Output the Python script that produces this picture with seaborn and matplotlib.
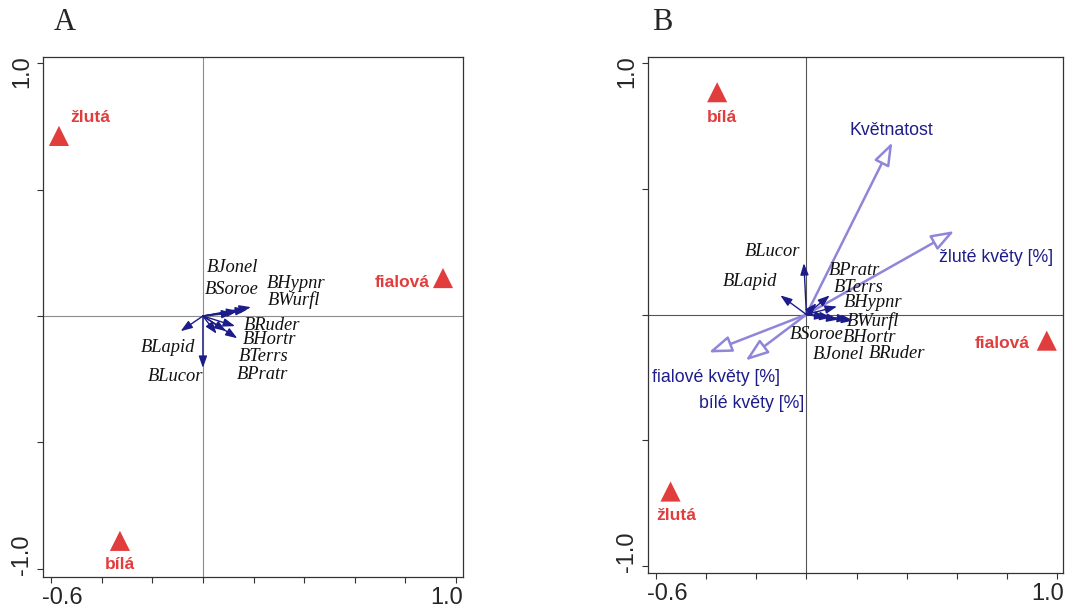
import matplotlib
matplotlib.use('Agg')
import numpy as np
import pandas as pd
import seaborn as sns
import matplotlib.pyplot as plt
import matplotlib.transforms as mtransforms

# --- panel A: species arrows (tips) and label centres
spec_a = ['BJonel', 'BSoroe', 'BHypnr', 'BWurfl', 'BRuder', 'BHortr', 'BTerrs', 'BPratr', 'BLapid', 'BLucor']
spec_a_x = [0.14, 0.12, 0.19, 0.175, 0.127, 0.136, 0.054, 0.092, -0.088, 0.0]
spec_a_y = [0.02, 0.012, 0.035, 0.026, -0.04, -0.088, -0.07, -0.06, -0.06, -0.205]
lab_a_x = [0.117, 0.115, 0.368, 0.36, 0.275, 0.265, 0.241, 0.235, -0.136, -0.109]
lab_a_y = [0.19, 0.103, 0.13, 0.063, -0.036, -0.091, -0.161, -0.233, -0.125, -0.24]

# panel A: sample (flower colour) centroids
cls_a = ['žlutá', 'bílá', 'fialová']
cls_a_x = [-0.569, -0.328, 0.949]
cls_a_y = [0.712, -0.889, 0.150]
cls_a_lx = [-0.447, -0.326, 0.787]
cls_a_ly = [0.783, -0.984, 0.134]

# --- panel B: species arrows and label centres
spec_b = ['BLucor', 'BLapid', 'BPratr', 'BTerrs', 'BHypnr', 'BWurfl', 'BSoroe', 'BHortr', 'BJonel', 'BRuder']
spec_b_x = [-0.01, -0.104, 0.04, 0.093, 0.122, 0.187, 0.08, 0.128, 0.1, 0.17]
spec_b_y = [0.204, 0.076, 0.045, 0.076, 0.032, -0.024, -0.01, -0.02, -0.012, -0.02]
lab_b_x = [-0.135, -0.223, 0.191, 0.207, 0.265, 0.265, 0.04, 0.251, 0.129, 0.36]
lab_b_y = [0.251, 0.133, 0.173, 0.109, 0.049, -0.027, -0.08, -0.09, -0.159, -0.157]

# panel B: environmental variables
env_b = ['Květnatost', 'žluté květy [%]', 'fialové květy [%]', 'bílé květy [%]']
env_b_x = [0.343, 0.59, -0.39, -0.243]
env_b_y = [0.685, 0.332, -0.151, -0.183]
env_lab_x = [0.339, 0.755, -0.359, -0.217]
env_lab_y = [0.733, 0.228, -0.251, -0.355]

# panel B: centroids
cls_b = ['bílá', 'fialová', 'žlutá']
cls_b_x = [-0.356, 0.959, -0.542]
cls_b_y = [0.884, -0.104, -0.704]
cls_b_lx = [-0.335, 0.783, -0.52]
cls_b_ly = [0.785, -0.114, -0.80]

RED = '#e23d3d'
NAVY = '#1c1c8a'
PURPLE = '#8f86d9'

sns.set_style('white')
plt.rcParams['font.family'] = ['Liberation Sans', 'DejaVu Sans']

fig = plt.figure(figsize=(10.7, 6.09), dpi=100)
ax_a = fig.add_axes([0.0402, 0.0525, 0.3925, 0.8539])
ax_b = fig.add_axes([0.6056, 0.0591, 0.3879, 0.8473])


def shift(label, dx, dy):
    # move a tick label by some pixels (R draws end labels pulled inwards)
    off = mtransforms.ScaledTranslation(dx / 100, dy / 100, fig.dpi_scale_trans)
    label.set_transform(label.get_transform() + off)


def setup(ax, xlim, ylim, zero_col):
    ax.set_xlim(*xlim)
    ax.set_ylim(*ylim)
    ax.axhline(0, color=zero_col, lw=0.8, zorder=0)
    ax.axvline(0, color=zero_col, lw=0.8, zorder=0)
    for s in ax.spines.values():
        s.set_color('#333333')
        s.set_linewidth(0.9)
    ax.set_xticks([-0.6, 1.0])
    ax.set_xticklabels(['-0.6', '1.0'])
    ax.set_xticks([-0.4, -0.2, 0.0, 0.2, 0.4, 0.6, 0.8], minor=True)
    ax.set_yticks([-1.0, 1.0])
    ax.set_yticklabels(['-1.0', '1.0'], rotation=90, va='center')
    ax.set_yticks([-0.5, 0.0, 0.5], minor=True)
    ax.tick_params(which='both', direction='out', length=4, width=0.8, color='#333333',
                   labelsize=17, pad=3, bottom=True, left=True)
    xl = ax.get_xticklabels()
    shift(xl[0], 11, 0)
    shift(xl[1], -9, 0)
    yl = ax.get_yticklabels()
    shift(yl[0], 0, 14)
    shift(yl[1], 0, -9)


def centroids(ax, names, xs, ys, lx, ly):
    df = pd.DataFrame({'x': xs, 'y': ys})
    sns.scatterplot(data=df, x='x', y='y', marker='^', s=210, color=RED,
                    edgecolor='none', ax=ax, zorder=5)
    ax.set_xlabel('')
    ax.set_ylabel('')
    for n, x, y in zip(names, lx, ly):
        ax.text(x, y, n, color=RED, fontsize=12.5, fontweight='bold',
                ha='center', va='center')


def species(ax, names, xs, ys, lx, ly):
    for x, y in zip(xs, ys):
        ax.annotate('', xy=(x, y), xytext=(0, 0),
                    arrowprops=dict(arrowstyle='-|>,head_length=0.7,head_width=0.25',
                                    color=NAVY, lw=1.0, shrinkA=0, shrinkB=0),
                    zorder=4)
    for n, x, y in zip(names, lx, ly):
        ax.text(x, y, n, fontsize=13.3, fontstyle='italic', family='Liberation Serif',
                color='#111111', ha='center', va='center')


# panel A
setup(ax_a, (-0.632, 1.028), (-1.032, 1.024), '#8c8c8c')
species(ax_a, spec_a, spec_a_x, spec_a_y, lab_a_x, lab_a_y)
centroids(ax_a, cls_a, cls_a_x, cls_a_y, cls_a_lx, cls_a_ly)

# panel B
setup(ax_b, (-0.632, 1.024), (-1.028, 1.024), '#555555')
for x, y in zip(env_b_x, env_b_y):
    ax_b.annotate('', xy=(x, y), xytext=(0, 0),
                  arrowprops=dict(arrowstyle='-|>,head_length=1.4,head_width=0.5',
                                  facecolor='white', edgecolor=PURPLE, lw=1.8,
                                  shrinkA=0, shrinkB=0),
                  zorder=3)
for n, x, y in zip(env_b, env_lab_x, env_lab_y):
    ax_b.text(x, y, n, fontsize=12.8, color=NAVY, ha='center', va='center')
species(ax_b, spec_b, spec_b_x, spec_b_y, lab_b_x, lab_b_y)
centroids(ax_b, cls_b, cls_b_x, cls_b_y, cls_b_lx, cls_b_ly)

fig.text(65 / 1070, 1 - 22 / 609, 'A', family='Liberation Serif', fontsize=22,
         ha='center', va='center')
fig.text(662 / 1070, 1 - 22 / 609, 'B', family='Liberation Serif', fontsize=22,
         ha='center', va='center')

fig.savefig('out.png', dpi=100)
